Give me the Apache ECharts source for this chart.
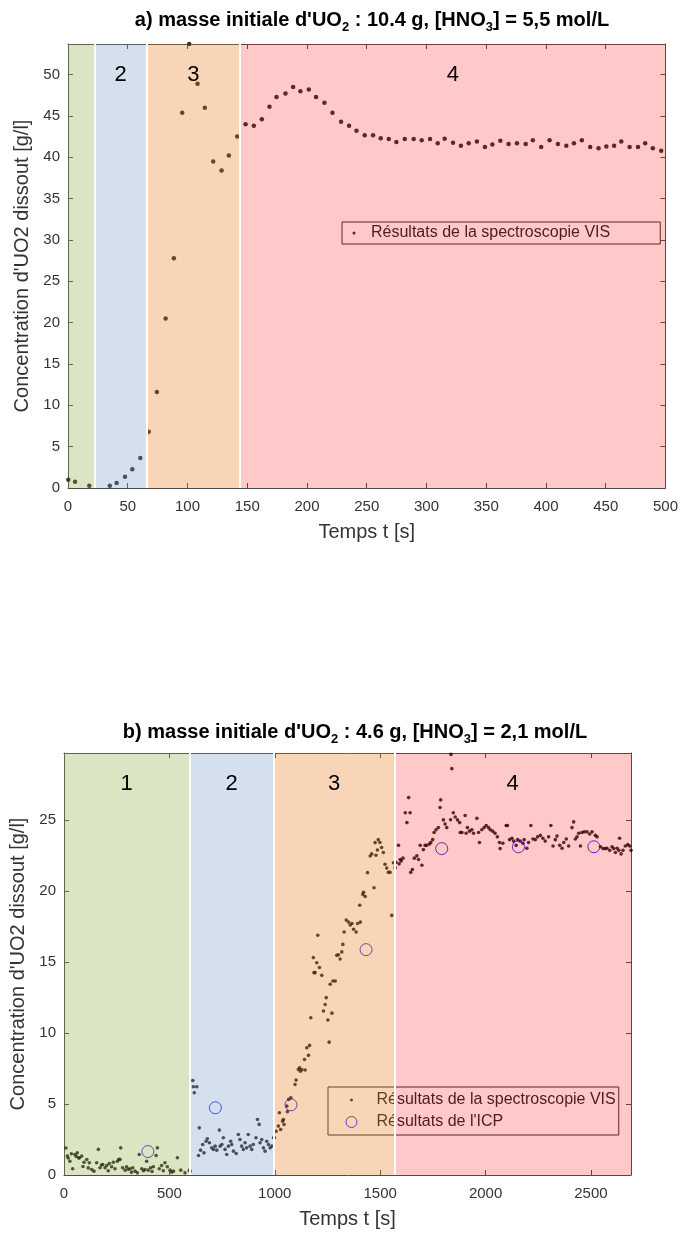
<!DOCTYPE html>
<html><head><meta charset="utf-8">
<script src="https://cdn.jsdelivr.net/npm/echarts@6/dist/echarts.min.js"></script>
<style>html,body{margin:0;padding:0;background:#fff}#c{width:681px;height:1237px}</style>
</head><body><div id="c"></div><script>
const FONT = '"Liberation Sans", Arial, sans-serif';
// ---------- data ----------
const seriesVisName = 'Résultats de la spectroscopie VIS';
const seriesIcpName = "Résultats de l'ICP";
const titleA = "{b|a) masse initiale d'UO}{s|2}{b| : 10.4 g, [HNO}{s|3}{b|] = 5,5 mol/L}";
const titleB = "{b|b) masse initiale d'UO}{s|2}{b| : 4.6 g, [HNO}{s|3}{b|] = 2,1 mol/L}";
const xNameText = 'Temps t [s]';
const yNameText = "Concentration d'UO2 dissout [g/l]";

// chart a) : time [s], concentration [g/l]
const topVis = [[0.3,1.0],[5.9,0.77],[17.8,0.28],[35,0.28],[40.7,0.6],[47.7,1.37],[53.8,2.26],[60.5,3.63],[67.5,6.8],[74.4,11.6],[81.7,20.5],[88.6,27.8],[95.6,45.4],[101.4,53.7],[108.4,48.9],[114.5,46.0],[121.5,39.5],[128.5,38.4],[134.6,40.2],[141.6,42.5],[148.6,44.0],[155.5,43.8],[162.2,44.6],[168.6,46.1],[174.5,47.3],[182,47.7],[188.4,48.5],[194.5,48.0],[201.5,48.2],[207.6,47.3],[214.6,46.6],[221.3,45.4],[228.5,44.3],[235.2,43.8],[241.4,43.2],[248.3,42.65],[255.3,42.65],[261.7,42.3],[268.4,42.2],[274.8,41.85],[281.8,42.2],[289.3,42.2],[296,42.05],[303,42.2],[309.4,41.7],[315.2,42.25],[322.2,41.75],[328.8,41.4],[335.3,41.7],[342.2,41.9],[348.9,41.25],[355.1,41.55],[361.8,42.0],[368.7,41.6],[375.7,41.7],[383,41.6],[389,42.05],[396,41.25],[403,42.05],[410,41.6],[417,41.4],[423.4,41.7],[430,42.05],[437,41.25],[444,41.1],[450.5,41.3],[457,41.4],[463,41.9],[470,41.25],[477,41.25],[483,41.7],[489.4,41.1],[496.4,40.8]];
const topStages = [[0,22,'', 'g'],[22,66,'2','b'],[66,144,'3','o'],[144,500,'4','p']];
const topXTicks = {min:0, max:500, interval:50};
const topYTicks = {min:0, max:53.7, interval:5};

// chart b)
const botVisGreen = [[9,1.9],[16,1.33],[20,1.2],[28,0.97],[35,1.5],[41,0.44],[52,1.44],[58,1.3],[63,1.56],[70,1.2],[73,1.21],[84,1.33],[90,0.6],[95,0.9],[108,1.09],[115,0.5],[120,0.86],[131,0.39],[142,0.27],[155,0.86],[163,1.8],[171,0.51],[178,0.7],[184,0.74],[195,0.51],[203,0.67],[210,0.3],[215,0.81],[226,0.58],[234,0.9],[242,0.44],[253,0.97],[260,1.1],[266,1.09],[269,1.91],[278,0.51],[290,0.34],[297,0.58],[305,0.4],[313,0.44],[320,0.2],[326,0.51],[337,0.27],[348,0.15],[357,1.44],[369,0.44],[377,0.3],[384,0.39],[392,0.97],[400,0.34],[411,0.51],[418,0.25],[424,0.58],[437,1.37],[443,1.91],[452,0.44],[463,0.67],[471,0.3],[479,0.86],[490,0.58],[503,0.34],[511,0.2],[519,0.27],[538,1.21],[554,0.34],[574,0.15],[595,0.34]];
const botVisBlue = [[598,0.27],[611,6.65],[614,6.21],[618,5.79],[630,6.21],[638,1.37],[642,3.32],[648,1.75],[658,2.15],[664,1.56],[674,2.38],[680,2.55],[690,2.27],[701,1.91],[709,1.8],[717,2.03],[725,1.75],[737,3.16],[741,2.03],[749,2.15],[756,2.62],[764,1.8],[772,1.44],[780,2.03],[791,2.38],[796,2.15],[804,1.68],[817,1.51],[827,2.85],[835,2.5],[843,2.03],[851,1.8],[859,2.27],[867,1.91],[874,2.85],[883,2.03],[891,1.8],[898,2.15],[911,2.62],[918,3.91],[926,3.56],[930,2.27],[938,2.5],[946,1.91],[954,1.68],[962,2.38],[970,2.15],[978,1.91],[986,2.03],[994,2.62]];
const botVisOrange = [[998,2.62],[1006,3.08],[1017,3.44],[1022,4.38],[1028,3.2],[1037,3.79],[1041,3.9],[1044,3.55],[1057,4.85],[1060,4.46],[1066,5.32],[1076,5.43],[1096,6.37],[1101,6.68],[1112,7.43],[1117,7.55],[1122,7.3],[1128,7.43],[1141,8.13],[1144,7.39],[1152,8.96],[1160,8.42],[1165,9.12],[1171,11.07],[1183,15.3],[1186,14.24],[1191,14.24],[1199,14.94],[1204,16.87],[1212,14.6],[1223,14.05],[1231,11.54],[1239,12.0],[1244,12.48],[1252,10.9],[1258,9.35],[1263,13.42],[1271,11.39],[1276,13.65],[1287,13.65],[1294,15.46],[1302,15.5],[1310,15.2],[1318,15.7],[1323,16.23],[1329,17.1],[1339,17.94],[1350,17.8],[1358,17.6],[1366,17.7],[1374,17.3],[1386,17.1],[1393,17.7],[1403,18.98],[1406,17.8],[1418,19.75],[1421,19.9],[1429,19.6],[1440,21.28],[1453,22.45],[1460,22.6],[1471,20.22],[1476,23.39],[1480,22.5],[1487,22.87],[1491,23.6],[1499,23.4],[1507,23.05],[1515,22.7],[1523,21.87],[1531,21.6],[1539,21.3],[1547,21.3],[1555,18.27],[1563,21.98]];
const botVisPink = [[1571,21.63],[1575,22.0],[1587,23.2],[1590,21.9],[1595,22.2],[1600,22.1],[1608,22.3],[1619,25.5],[1627,24.8],[1635,26.56],[1642,25.5],[1645,21.3],[1653,21.5],[1662,22.3],[1674,22.46],[1682,22.2],[1690,23.2],[1698,21.8],[1705,22.9],[1713,23.2],[1721,23.2],[1734,23.3],[1740,23.4],[1749,23.6],[1756,24.1],[1765,24.3],[1776,24.45],[1784,25.86],[1787,26.4],[1800,24.99],[1808,24.7],[1816,24.45],[1834,25.0],[1836,29.6],[1840,28.6],[1847,25.5],[1856,25.2],[1867,24.99],[1877,24.8],[1880,24.1],[1888,24.1],[1903,25.3],[1908,24.05],[1914,24.45],[1924,24.2],[1935,24.3],[1943,24.05],[1959,25.1],[1967,24.1],[1971,23.4],[1982,24.3],[1993,24.45],[2003,24.6],[2014,24.45],[2022,24.3],[2034,24.2],[2045,24.05],[2056,23.8],[2066,23.4],[2069,22.97],[2082,23.35],[2098,24.6],[2104,24.6],[2114,23.6],[2125,23.7],[2133,23.5],[2145,23.2],[2152,23.6],[2164,23.5],[2177,23.35],[2183,23.6],[2196,23.0],[2204,23.4],[2215,24.6],[2225,23.65],[2236,23.6],[2247,23.8],[2260,23.9],[2272,23.7],[2283,23.5],[2299,23.8],[2310,24.6],[2320,23.15],[2331,23.6],[2339,23.85],[2352,23.2],[2363,23.0],[2371,23.4],[2383,23.65],[2394,23.15],[2410,24.45],[2418,24.85],[2426,23.65],[2434,23.8],[2442,24.05],[2450,23.15],[2457,24.1],[2468,24.15],[2481,24.15],[2494,24.0],[2505,24.15],[2521,23.9],[2529,23.8],[2545,23.1],[2557,22.97],[2568,22.97],[2576,23.0],[2589,22.85],[2600,23.1],[2608,22.97],[2616,22.7],[2624,23.0],[2632,22.85],[2636,23.7],[2643,22.6],[2652,22.85],[2663,23.15],[2675,23.25],[2684,23.15],[2690,22.85]];
const botIcp = [[398,1.65],[718,4.73],[1077,4.94],[1433,15.86],[1792,22.97],[2156,23.1],[2514,23.1]];
const botStages = [[0,595,'1','g'],[595,995,'2','b'],[995,1567,'3','o'],[1567,2690,'4','p']];
const botXTicks = {min:0, max:2690, interval:500};
const botYTicks = {min:0, max:29.7, interval:5};

// ---------- style ----------
const stageColor = {g:'rgba(135,168,55,0.3)', b:'rgba(115,152,198,0.3)', o:'rgba(232,115,12,0.3)', p:'rgba(255,0,0,0.21)'};
const AX = '#4d4d4d', TXT = '#333';
const richTitle = {
  b:{fontFamily:FONT,fontSize:20,fontWeight:'bold',color:'#000',lineHeight:26},
  s:{fontFamily:FONT,fontSize:13,fontWeight:'bold',color:'#000',lineHeight:13,padding:[15,0,0,0]}
};
function xAx(grid, t, bottom){
  return {gridIndex:grid,type:'value',position:bottom?'bottom':'top',min:t.min,max:t.max,interval:t.interval,
    axisLine:{show:true,onZero:false,lineStyle:{color:AX,width:1}},
    axisTick:{show:true,inside:true,length:5,lineStyle:{color:AX}},
    axisLabel:{show:bottom,showMaxLabel:t.max%t.interval===0,color:TXT,fontFamily:FONT,fontSize:15,margin:11,
      formatter:v=>String(v)},
    splitLine:{show:false},
    name:bottom?xNameText:'',nameLocation:'middle',nameGap:34,nameTextStyle:{color:TXT,fontFamily:FONT,fontSize:20}};
}
function yAx(grid, t, left, gap){
  return {gridIndex:grid,type:'value',position:left?'left':'right',min:t.min,max:t.max,interval:t.interval,
    axisLine:{show:true,onZero:false,lineStyle:{color:AX,width:1}},
    axisTick:{show:true,inside:true,length:5,lineStyle:{color:AX}},
    axisLabel:{show:left,showMaxLabel:t.max%t.interval===0,color:TXT,fontFamily:FONT,fontSize:15,margin:8},
    splitLine:{show:false},
    name:left?yNameText:'',nameLocation:'middle',nameRotate:90,nameGap:gap,nameTextStyle:{color:TXT,fontFamily:FONT,fontSize:20}};
}
function stageAreas(stages){
  return {z:10,silent:true,data:stages.map(s=>[{xAxis:s[0],itemStyle:{color:stageColor[s[3]]},
      label:{show:s[2]!=='',formatter:s[2],position:'insideTop',distance:20,fontSize:22,fontFamily:FONT,color:'#000'}},
      {xAxis:s[1]}])};
}
function stageLines(stages){
  return {z:11,silent:true,symbol:['none','none'],label:{show:false},lineStyle:{color:'#fff',width:2,type:'solid'},
    data:stages.slice(1).map(s=>({xAxis:s[0]}))};
}
const dotIconA = 'path://M0,0M24,12M10.5,6a1.5,1.5 0 1,0 3,0a1.5,1.5 0 1,0 -3,0z';
const dotIconB = 'path://M0,0M40,12M18.5,6a1.5,1.5 0 1,0 3,0a1.5,1.5 0 1,0 -3,0z';
const ringIconB = 'path://M0,0M40,12M14.5,6a5.5,5.5 0 1,0 11,0a5.5,5.5 0 1,0 -11,0z';

const option = {
  animation:false,
  backgroundColor:'#fff',
  title:[
    {text:titleA,left:367,top:2,textAlign:'center',textStyle:{rich:richTitle}},
    {text:titleB,left:350,top:714,textAlign:'center',textStyle:{rich:richTitle}}
  ],
  grid:[
    {left:68,top:44,width:598,height:444,containLabel:false},
    {left:64,top:753,width:567,height:422,containLabel:false}
  ],
  xAxis:[xAx(0,topXTicks,true),xAx(0,topXTicks,false),xAx(1,botXTicks,true),xAx(1,botXTicks,false)],
  yAxis:[yAx(0,topYTicks,true,35),yAx(0,topYTicks,false,0),yAx(1,botYTicks,true,34),yAx(1,botYTicks,false,0)],
  legend:[
    {z:3,left:342,top:222,orient:'vertical',backgroundColor:'#fff',borderColor:'#333',borderWidth:1,
     padding:[3,50,3,0],itemWidth:24,itemHeight:12,itemGap:6,selectedMode:false,
     textStyle:{fontFamily:FONT,fontSize:16,color:'#262626'},
     data:[{name:seriesVisName,icon:dotIconA}]},
    {z:3,left:328,top:1087,orient:'vertical',backgroundColor:'#fff',borderColor:'#333',borderWidth:1,
     padding:[5,3,5,3],itemWidth:40,itemHeight:12,itemGap:6,selectedMode:false,
     textStyle:{fontFamily:FONT,fontSize:16,color:'#262626'},
     data:[{name:seriesVisName,icon:dotIconB},
           {name:seriesIcpName,icon:ringIconB,itemStyle:{color:'rgba(0,0,0,0)',borderColor:'#0000ff',borderWidth:1}}]}
  ],
  series:[
    {type:'scatter',name:seriesVisName,xAxisIndex:0,yAxisIndex:0,z:2,symbolSize:4.5,itemStyle:{color:'#000'},
     data:topVis,markArea:stageAreas(topStages),markLine:stageLines(topStages),clip:false},
    {type:'scatter',name:seriesVisName,xAxisIndex:2,yAxisIndex:2,z:2,symbolSize:3.6,itemStyle:{color:'#000'},
     data:[].concat(botVisGreen,botVisBlue,botVisOrange,botVisPink),markArea:stageAreas(botStages),markLine:stageLines(botStages),clip:false},
    {type:'scatter',name:seriesIcpName,xAxisIndex:2,yAxisIndex:2,z:2,symbol:'circle',symbolSize:12,
     itemStyle:{color:'rgba(0,0,0,0)',borderColor:'#0000ff',borderWidth:1},data:botIcp}
  ]
};
const chart = echarts.init(document.getElementById('c'),null,{renderer:'canvas'});
chart.setOption(option);
</script></body></html>
